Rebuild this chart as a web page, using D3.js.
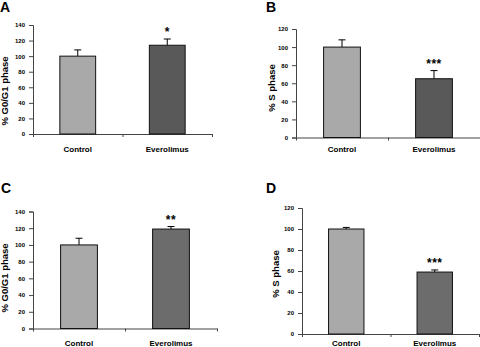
<!DOCTYPE html>
<html>
<head>
<meta charset="utf-8">
<script src="https://cdn.jsdelivr.net/npm/d3@7"></script>
<style>
  body { margin: 0; background: #fff; }
  svg { display: block; font-family: "Liberation Sans", Arial, sans-serif; font-weight: bold; }
</style>
</head>
<body>
<svg id="fig" width="480" height="347"></svg>
<script>
// Data
const groups = ['Control', 'Everolimus'];

const g0g1MeansA = [100, 114];
const g0g1ErrA = [8, 8];
const sMeansB = [100, 65];
const sErrB = [8, 9];
const g0g1MeansC = [100, 119];
const g0g1ErrC = [8, 3];
const sMeansD = [100, 59];
const sErrD = [1.5, 2];

const g0g1Ticks = [0, 20, 40, 60, 80, 100, 120, 140];
const sTicks = [0, 20, 40, 60, 80, 100, 120];

const signifA = ['', '*'];
const signifB = ['', '***'];
const signifC = ['', '**'];
const signifD = ['', '***'];

// Panel layout (positions in the 480x347 frame)
const panels = [
    { letter: 'A', means: g0g1MeansA, errs: g0g1ErrA, stars: signifA, ticks: g0g1Ticks,
      yLabel: '% G0/G1 phase', x0: 33, x1: 212, yTop: 25, yBot: 134,
      letterX: 0, letterY: 12, labelX: 8, labelY: 91, catY: 152,
      colors: ['#a9a9a9', '#595959'] },
    { letter: 'B', means: sMeansB, errs: sErrB, stars: signifB, ticks: sTicks,
      yLabel: '% S phase', x0: 296, x1: 480, yTop: 29, yBot: 137.5,
      letterX: 266, letterY: 12, labelX: 275, labelY: 88, catY: 152,
      colors: ['#a9a9a9', '#595959'] },
    { letter: 'C', means: g0g1MeansC, errs: g0g1ErrC, stars: signifC, ticks: g0g1Ticks,
      yLabel: '% G0/G1 phase', x0: 33, x1: 217, yTop: 211.5, yBot: 328.5,
      letterX: 1, letterY: 193, labelX: 8, labelY: 278, catY: 345.5,
      colors: ['#a9a9a9', '#6c6c6c'] },
    { letter: 'D', means: sMeansD, errs: sErrD, stars: signifD, ticks: sTicks,
      yLabel: '% S phase', x0: 302, x1: 479, yTop: 208, yBot: 334,
      letterX: 266, letterY: 193, labelX: 279, labelY: 274, catY: 345.5,
      colors: ['#a9a9a9', '#6c6c6c'] }
];

const svg = d3.select('#fig');

panels.forEach(p => {
    const g = svg.append('g');

    const x = d3.scaleBand()
        .domain(groups)
        .range([p.x0, p.x1])
        .paddingInner(0.6)
        .paddingOuter(0.3);

    const y = d3.scaleLinear()
        .domain([0, d3.max(p.ticks)])
        .range([p.yBot, p.yTop]);

    // Panel letter
    g.append('text')
        .attr('x', p.letterX)
        .attr('y', p.letterY)
        .style('font-size', '14px')
        .text(p.letter);

    // Y axis
    const yAxis = g.append('g')
        .attr('transform', `translate(${p.x0},0)`)
        .call(d3.axisLeft(y).tickValues(p.ticks).tickSize(4).tickPadding(4).tickFormat(d3.format('d')));
    yAxis.selectAll('path, line').attr('stroke', '#444').attr('stroke-width', 1);
    yAxis.selectAll('text').style('font-size', '6px').style('font-weight', 'bold').attr('fill', '#000');

    // X axis line with ticks at band boundaries
    const xEdges = d3.scaleLinear().domain([0, groups.length]).range([p.x0, p.x1]);
    const xAxis = g.append('g')
        .attr('transform', `translate(0,${p.yBot})`)
        .call(d3.axisBottom(xEdges).tickValues(d3.range(groups.length + 1)).tickSize(3).tickSizeOuter(0).tickFormat(''));
    xAxis.selectAll('path, line').attr('stroke', '#444').attr('stroke-width', 1);

    // Category labels
    g.selectAll('.cat')
        .data(groups)
        .enter()
        .append('text')
        .attr('x', d => x(d) + x.bandwidth() / 2)
        .attr('y', p.catY)
        .attr('text-anchor', 'middle')
        .style('font-size', '8px')
        .text(d => d);

    // Y label
    g.append('text')
        .attr('transform', `translate(${p.labelX},${p.labelY}) rotate(-90)`)
        .attr('text-anchor', 'middle')
        .style('font-size', '9.5px')
        .text(p.yLabel);

    // Error bars (upper only)
    groups.forEach((grp, i) => {
        const cx = x(grp) + x.bandwidth() / 2;
        g.append('line')
            .attr('x1', cx).attr('x2', cx)
            .attr('y1', y(p.means[i]))
            .attr('y2', y(p.means[i] + p.errs[i]))
            .attr('stroke', '#000').attr('stroke-width', 1);
        g.append('line')
            .attr('x1', cx - 3.5).attr('x2', cx + 3.5)
            .attr('y1', y(p.means[i] + p.errs[i]))
            .attr('y2', y(p.means[i] + p.errs[i]))
            .attr('stroke', '#000').attr('stroke-width', 1);
    });

    // Bars
    g.selectAll('.bar')
        .data(groups)
        .enter()
        .append('rect')
        .attr('x', d => x(d))
        .attr('width', x.bandwidth())
        .attr('y', (d, i) => y(p.means[i]))
        .attr('height', (d, i) => y(0) - y(p.means[i]))
        .attr('fill', (d, i) => p.colors[i])
        .attr('stroke', '#111')
        .attr('stroke-width', 1);

    // Significance stars
    g.selectAll('.star')
        .data(groups)
        .enter()
        .append('text')
        .attr('x', d => x(d) + x.bandwidth() / 2)
        .attr('y', (d, i) => y(p.means[i] + p.errs[i]) - 3)
        .attr('text-anchor', 'middle')
        .style('font-size', '12px')
        .style('letter-spacing', '0.5px')
        .text((d, i) => p.stars[i]);
});
</script>
</body>
</html>
